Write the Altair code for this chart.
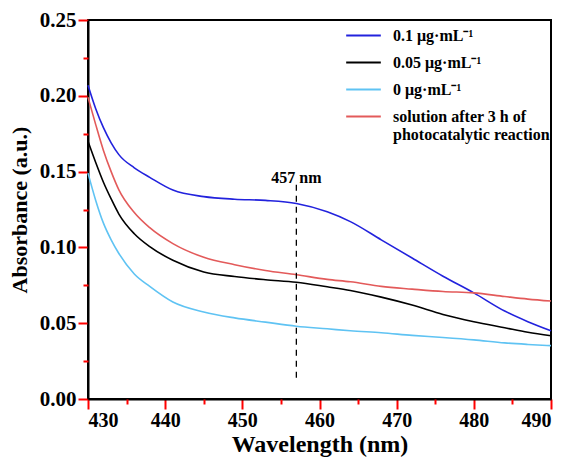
import altair as alt
import pandas as pd

wavelength = [430, 431, 432, 433, 434, 436, 438, 441, 445, 449, 453, 457, 461, 464, 468, 472, 476, 480, 484, 487, 490]
blue_01 = [0.207, 0.1915, 0.179, 0.169, 0.1612, 0.1525, 0.1462, 0.1378, 0.1335, 0.1318, 0.131, 0.129, 0.1235, 0.117, 0.105, 0.093, 0.081, 0.070, 0.058, 0.051, 0.045]
black_005 = [0.170, 0.156, 0.143, 0.132, 0.122, 0.109, 0.1005, 0.0915, 0.0838, 0.0808, 0.0787, 0.077, 0.074, 0.0716, 0.0672, 0.062, 0.0558, 0.051, 0.047, 0.044, 0.0417]
cyan_0 = [0.149, 0.131, 0.116, 0.105, 0.096, 0.0825, 0.0743, 0.064, 0.0574, 0.0535, 0.0507, 0.048, 0.0463, 0.045, 0.0437, 0.042, 0.0406, 0.039, 0.037, 0.036, 0.0352]
red_after = [0.199, 0.181, 0.164, 0.150, 0.138, 0.123, 0.113, 0.1025, 0.0935, 0.0886, 0.0848, 0.082, 0.0789, 0.0773, 0.0743, 0.0725, 0.0709, 0.070, 0.0676, 0.0659, 0.0646]

series_names = ["0.1 μg·mL⁻¹", "0.05 μg·mL⁻¹", "0 μg·mL⁻¹", "solution after 3 h of photocatalytic reaction"]
series_colors = ["#2222dd", "#000000", "#5fc3f3", "#e35a5a"]
series_values = [blue_01, black_005, cyan_0, red_after]

marker_wavelength = [457]
marker_low = [0.014]
marker_high = [0.143]
marker_text = ["457 nm"]
marker_text_y = [0.146]

x_major = [430, 440, 450, 460, 470, 480, 490]
x_minor = [435, 445, 455, 465, 475, 485]
y_major = [0.0, 0.05, 0.10, 0.15, 0.20, 0.25]
y_minor = [0.025, 0.075, 0.125, 0.175, 0.225]

rows = []
for name, vals in zip(series_names, series_values):
    for w, v in zip(wavelength, vals):
        rows.append({"Wavelength": w, "Absorbance": v, "Series": name})
df = pd.DataFrame(rows)

FONT = "Liberation Serif"

x_scale = alt.Scale(domain=[430, 490], nice=False, zero=False)
y_scale = alt.Scale(domain=[0, 0.25], nice=False)

tick_style = dict(ticks=True, tickColor="red", tickWidth=2, tickOpacity=1, grid=False)
common = dict(
    domainColor="black", domainWidth=2,
    labelFont=FONT, labelFontWeight="bold", labelColor="black",
    titleFont=FONT, titleFontWeight="bold", titleColor="black",
)

x_axis = alt.Axis(title="Wavelength (nm)", values=x_major, tickSize=10, orient="bottom",
                  labelFontSize=20, titleFontSize=24, labelPadding=1, titlePadding=2,
                  **common, **tick_style)
y_axis = alt.Axis(title="Absorbance (a.u.)", values=y_major, tickSize=10, format=".2f", orient="left",
                  labelFontSize=21, titleFontSize=22, labelPadding=2, titlePadding=8,
                  **common, **tick_style)

x_axis_minor = alt.Axis(title=None, values=x_minor, tickSize=5, labels=False, domain=False,
                        orient="bottom", **tick_style)
y_axis_minor = alt.Axis(title=None, values=y_minor, tickSize=5, labels=False, domain=False,
                        orient="left", **tick_style)

lines = alt.Chart(df).mark_line(strokeWidth=1.6, interpolate="monotone").encode(
    x=alt.X("Wavelength:Q", scale=x_scale, axis=x_axis),
    y=alt.Y("Absorbance:Q", scale=y_scale, axis=y_axis),
    color=alt.Color(
        "Series:N",
        scale=alt.Scale(domain=series_names, range=series_colors),
        sort=series_names,
        legend=alt.Legend(
            title=None, orient="none", legendX=257, legendY=-3,
            symbolType="stroke", symbolSize=1200, symbolStrokeWidth=2,
            labelFont=FONT, labelFontSize=16, labelFontWeight="bold", labelColor="black",
            labelLimit=400, rowPadding=-9, labelOffset=11,
            labelExpr="datum.label == 'solution after 3 h of photocatalytic reaction' ? ['solution after 3 h of', 'photocatalytic reaction'] : datum.label",
        ),
    ),
)

marker_df = pd.DataFrame({"w": marker_wavelength, "lo": marker_low, "hi": marker_high,
                          "t": marker_text, "ty": marker_text_y})

rule = alt.Chart(marker_df).mark_rule(color="black", strokeWidth=1.3, strokeDash=[6, 5]).encode(
    x=alt.X("w:Q", scale=x_scale, axis=x_axis_minor),
    y=alt.Y("lo:Q", scale=y_scale, axis=y_axis_minor),
    y2="hi:Q",
)
label = alt.Chart(marker_df).mark_text(
    font=FONT, fontSize=16, fontWeight="bold", color="black", align="center", baseline="middle"
).encode(x=alt.X("w:Q", scale=x_scale, axis=None), y=alt.Y("ty:Q", scale=y_scale, axis=None), text="t:N")

chart = alt.layer(lines, rule, label).resolve_axis(x="independent", y="independent").properties(
    width=463, height=379,
    padding={"left": 88, "top": 20, "right": 20, "bottom": 60},
    autosize=alt.AutoSizeParams(type="none"),
    background="white",
).configure_view(stroke="black", strokeWidth=2)

chart.save("out.html", embed_options={"renderer": "svg", "actions": False})
